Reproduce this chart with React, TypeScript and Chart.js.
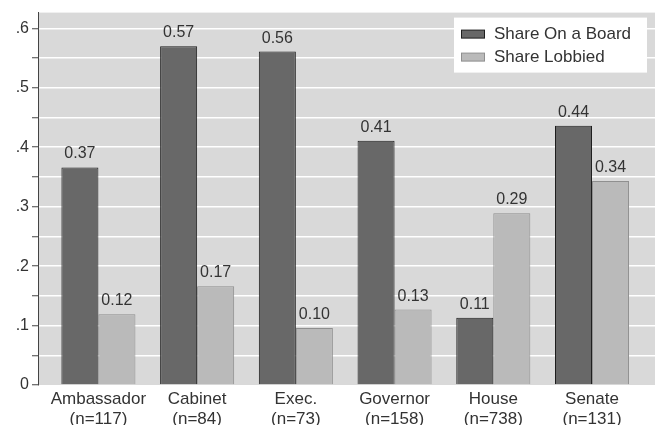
import React, { useEffect, useRef } from 'react';
import { Chart, registerables } from 'chart.js';

Chart.register(...registerables);

const categories = ['Ambassador', 'Cabinet', 'Exec.', 'Governor', 'House', 'Senate'];
const counts = ['(n=117)', '(n=84)', '(n=73)', '(n=158)', '(n=738)', '(n=131)'];
const seriesNames = ['Share On a Board', 'Share Lobbied'];
const shareBoard = [0.366, 0.570, 0.561, 0.411, 0.113, 0.436];
const shareLobbied = [0.119, 0.166, 0.096, 0.127, 0.289, 0.343];
const yTicks = [0, 0.05, 0.1, 0.15, 0.2, 0.25, 0.3, 0.35, 0.4, 0.45, 0.5, 0.55, 0.6];
const yLabels = ['0', '', '.1', '', '.2', '', '.3', '', '.4', '', '.5', '', '.6'];

const FONT = "'Liberation Sans', Arial, Helvetica, sans-serif";
const TEXT = '#333333';
const DARK = '#686868';
const DARK_BORDER = '#1e1e1e';
const LIGHT = '#bababa';
const LIGHT_BORDER = '#8f8f8f';
const PLOT_BG = '#d9d9d9';

const bgPlugin = {
  id: 'plotBg',
  beforeDraw(chart: any) {
    const { ctx, chartArea } = chart;
    ctx.save();
    ctx.fillStyle = PLOT_BG;
    ctx.fillRect(chartArea.left, chartArea.top, chartArea.right - chartArea.left, chartArea.bottom - chartArea.top);
    ctx.restore();
  },
};

const valuePlugin = {
  id: 'valueLabels',
  afterDatasetsDraw(chart: any) {
    const { ctx } = chart;
    ctx.save();
    ctx.font = `16px ${FONT}`;
    ctx.fillStyle = TEXT;
    ctx.textAlign = 'center';
    ctx.textBaseline = 'alphabetic';
    chart.data.datasets.forEach((ds: any, di: number) => {
      const meta = chart.getDatasetMeta(di);
      meta.data.forEach((el: any, i: number) => {
        const v = ds.data[i].y as number;
        ctx.fillText(v.toFixed(2), el.x, el.y - 9);
      });
    });
    ctx.restore();
  },
};

const legendPlugin = {
  id: 'boxLegend',
  afterDraw(chart: any) {
    const { ctx, chartArea } = chart;
    const boxW = 193;
    const boxH = 55;
    const boxX = chartArea.right - 8 - boxW;
    const boxY = chartArea.top + 5;
    ctx.save();
    ctx.fillStyle = '#ffffff';
    ctx.fillRect(boxX, boxY, boxW, boxH);
    ctx.font = `17px ${FONT}`;
    ctx.textBaseline = 'middle';
    ctx.textAlign = 'left';
    chart.data.datasets.forEach((ds: any, i: number) => {
      const sy = boxY + 12 + i * 23;
      ctx.fillStyle = ds.backgroundColor;
      ctx.fillRect(boxX + 7.5, sy + 0.5, 23, 8);
      ctx.strokeStyle = ds.borderColor;
      ctx.lineWidth = 1;
      ctx.strokeRect(boxX + 7.5, sy + 0.5, 23, 8);
      ctx.fillStyle = TEXT;
      ctx.fillText(ds.label, boxX + 40, boxY + 17 + i * 23);
    });
    ctx.restore();
  },
};

export default function App() {
  const canvasRef = useRef<HTMLCanvasElement | null>(null);

  useEffect(() => {
    const canvas = canvasRef.current;
    if (!canvas) return;
    const chart = new Chart(canvas, {
      type: 'bar',
      data: {
        datasets: [
          {
            label: seriesNames[0],
            data: shareBoard.map((v, i) => ({ x: i, y: v })),
            backgroundColor: DARK,
            borderColor: DARK_BORDER,
            borderWidth: 1,
            categoryPercentage: 0.75,
            barPercentage: 1,
          },
          {
            label: seriesNames[1],
            data: shareLobbied.map((v, i) => ({ x: i, y: v })),
            backgroundColor: LIGHT,
            borderColor: LIGHT_BORDER,
            borderWidth: 1,
            categoryPercentage: 0.75,
            barPercentage: 1,
          },
        ],
      } as any,
      options: {
        animation: false,
        responsive: false,
        maintainAspectRatio: false,
        layout: { padding: { top: 8, right: 0, bottom: 0, left: 0 } },
        plugins: { legend: { display: false }, tooltip: { enabled: false } },
        scales: {
          x: {
            type: 'linear',
            bounds: 'data',
            min: -0.612,
            max: 5.638,
            offset: false,
            afterBuildTicks: (s: any) => {
              s.ticks = categories.map((_, i) => ({ value: i }));
            },
            afterFit: (s: any) => {
              s.height = 40;
            },
            grid: { display: false, drawTicks: false },
            border: { display: false },
            ticks: {
              callback: (_v: any, i: number) => [categories[i], counts[i]],
              color: TEXT,
              font: { family: FONT, size: 17 },
              padding: 4,
              maxRotation: 0,
              autoSkip: false,
            },
          },
          y: {
            type: 'linear',
            bounds: 'data',
            min: 0,
            max: 0.6265,
            afterBuildTicks: (s: any) => {
              s.ticks = yTicks.map((v) => ({ value: v }));
            },
            afterFit: (s: any) => {
              s.width = 38;
            },
            grid: {
              color: (c: any) => (c.tick && c.tick.value === 0 ? 'rgba(0,0,0,0)' : '#ffffff'),
              lineWidth: 1.5,
              tickColor: '#444444',
              tickWidth: 1,
              tickLength: 6,
              drawTicks: true,
            },
            border: { display: true, color: '#444444', width: 1 },
            ticks: {
              callback: (_v: any, i: number) => yLabels[i],
              color: TEXT,
              font: { family: FONT, size: 16 },
              padding: 3,
              autoSkip: false,
            },
          },
        },
      } as any,
      plugins: [bgPlugin, valuePlugin, legendPlugin],
    });
    return () => chart.destroy();
  }, []);

  return (
    <div style={{ position: 'fixed', left: 0, top: 0, width: 655, height: 425, background: '#ffffff' }}>
      <canvas ref={canvasRef} width={655} height={425} style={{ display: 'block', width: 655, height: 425 }} />
    </div>
  );
}
